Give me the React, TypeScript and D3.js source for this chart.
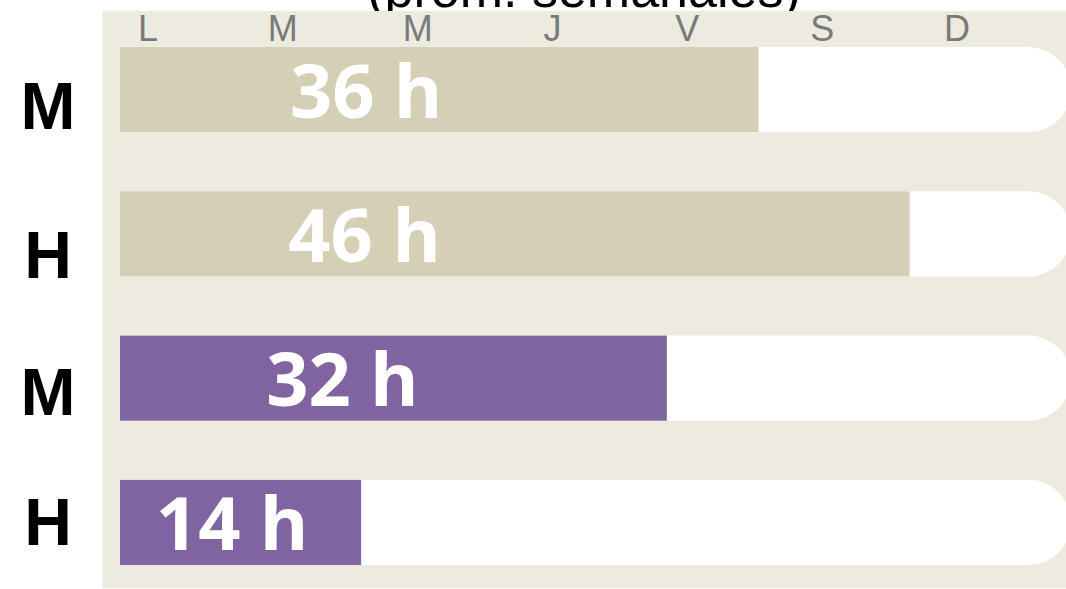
import React from "react";
import * as d3 from "d3";

const rows = ["M1", "H1", "M2", "H2"];
const rowLabels = ["M", "H", "M", "H"];
const hours = [37.6, 46.5, 32.2, 14.2];
const hourLabels = ["36 h", "46 h", "32 h", "14 h"];
const days = ["L", "M", "M", "J", "V", "S", "D"];
const title = "(prom. semanales)";
const maxHours = 56;

const W = 1066;
const H = 589;

export default function App() {
  const x = d3.scaleLinear().domain([0, maxHours]).range([120, 1071]);
  const y = d3.scaleBand<string>().domain(rows).range([47, 565]).paddingInner(0.41).paddingOuter(0);
  const dayX = d3.scalePoint<number>().domain(d3.range(days.length)).range([148, 957]);
  const labelY = d3.scalePoint<string>().domain(rows).range([105, 521]);
  const labelNudge = [0, 11, 9, 0];
  const labelAt = [14.5, 14.4, 13.1, 6.6];
  const colors = ["#D5CFB6", "#D5CFB6", "#8064A2", "#8064A2"];
  const bw = y.bandwidth();

  const trackPath = (y0: number, h: number) => {
    const x0 = x(0);
    const x1 = x(maxHours);
    const r = h / 2;
    return `M${x0},${y0}H${x1 - r}A${r},${r} 0 0 1 ${x1 - r},${y0 + h}H${x0}Z`;
  };

  return (
    <svg width={W} height={H} style={{ position: "absolute", left: 0, top: 0, background: "#fff" }}>
      <text x={584} y={7} textAnchor="middle" fontFamily="Liberation Sans, Arial, sans-serif" fontSize={52} fill="#000">
        {title}
      </text>
      <rect x={102.5} y={11} width={W - 102.5} height={577} fill="#EDEBE0" />
      {days.map((d, i) => (
        <text key={"d" + i} x={dayX(i)} y={40.5} textAnchor="middle" fontFamily="Liberation Sans, Arial, sans-serif" fontSize={36} fill="#7a7a7a">
          {d}
        </text>
      ))}
      {rows.map((r, i) => {
        const y0 = y(r)!;
        return (
          <g key={r}>
            <path d={trackPath(y0, bw)} fill="#fff" />
            <rect x={x(0)} y={y0} width={x(hours[i]) - x(0)} height={bw} fill={colors[i]} />
            <text x={x(labelAt[i])} y={y0 + bw / 2 + 28} textAnchor="middle" fontFamily="Open Sans, sans-serif" fontWeight={700} fontSize={74} fill="#fff">
              {hourLabels[i]}
            </text>
            <text x={48} y={labelY(r)! + labelNudge[i] + 23.5} textAnchor="middle" fontFamily="Liberation Sans, Arial, sans-serif" fontWeight={700} fontSize={66} fill="#000">
              {rowLabels[i]}
            </text>
          </g>
        );
      })}
    </svg>
  );
}
